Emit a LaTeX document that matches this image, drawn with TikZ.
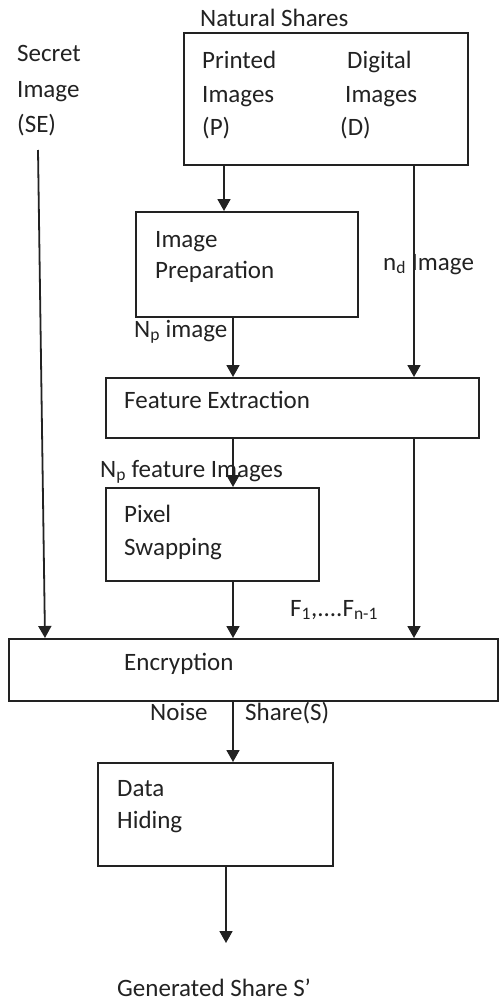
\documentclass[tikz,border=0pt]{standalone}
\usepackage{fontspec}
\setmainfont{Carlito}
\usetikzlibrary{arrows.meta}
\definecolor{ink}{HTML}{222222}
\begin{document}
\begin{tikzpicture}[x=1pt,y=-1pt,
  box/.style={draw=ink, line width=1.8pt, inner sep=0pt, anchor=north west},
  lbl/.style={inner sep=0pt, anchor=base west, text=ink, font=\fontsize{25}{29}\selectfont},
  arr/.style={draw=ink, line width=1.8pt, -{Triangle[length=12pt,width=13pt]}},
  ln/.style={draw=ink, line width=1.8pt}]
\useasboundingbox (0,0) rectangle (498,1001);
% boxes
\node[box, minimum width=284pt, minimum height=132pt] (ns) at (183,32) {};
\node[box, minimum width=222pt, minimum height=105pt] (ip) at (135,211) {};
\node[box, minimum width=373pt, minimum height=60pt] (fe) at (105,377) {};
\node[box, minimum width=213pt, minimum height=93pt] (ps) at (105,487) {};
\node[box, minimum width=489pt, minimum height=62pt] (enc) at (8,638) {};
\node[box, minimum width=235pt, minimum height=103pt] (dh) at (97,762) {};
% texts
\node[lbl] (tns) at (200,26) {Natural Shares};
\node[lbl] (ts1) at (17,61) {Secret};
\node[lbl] (ts2) at (17,97) {Image};
\node[lbl] (ts3) at (17,132) {(SE)};
\node[lbl] (tp1) at (202,68) {Printed};
\node[lbl] (tp2) at (202,102) {Images};
\node[lbl] (tp3) at (202,135) {(P)};
\node[lbl] (td1) at (347,68) {Digital};
\node[lbl] (td2) at (345,102) {Images};
\node[lbl] (td3) at (340,135) {(D)};
\node[lbl] (ti1) at (155,247) {Image};
\node[lbl] (ti2) at (155,278) {Preparation};
\node[lbl] (tnd) at (383,270) {n\textsubscript{d} Image};
\node[lbl] (tnp) at (134,337) {N\textsubscript{p} image};
\node[lbl] (tfe) at (124,408) {Feature Extraction};
\node[lbl] (tnf) at (100,477) {N\textsubscript{p} feature Images};
\node[lbl] (tpx1) at (124,522) {Pixel};
\node[lbl] (tpx2) at (124,555) {Swapping};
\node[lbl] (tf) at (290,616) {F\textsubscript{1},....F\textsubscript{n-1}};
\node[lbl] (ten) at (124,670) {Encryption};
\node[lbl] (tno) at (150,720) {Noise};
\node[lbl] (tsh) at (245,720) {Share(S)};
\node[lbl] (tdh1) at (117,796) {Data};
\node[lbl] (tdh2) at (117,828) {Hiding};
\node[lbl] (tgs) at (117,996) {Generated Share S’};
% x positions
\coordinate (xa) at (224,0);
\coordinate (xb) at (233,0);
\coordinate (xr) at (414,0);
\coordinate (xse) at (45,0);
\coordinate (setop) at (38,150);
\coordinate (xd) at (226,0);
\coordinate (gend) at (226,943);
% connectors
\draw[arr] (ns.south -| xa) -- (ip.north -| xa);
\draw[arr] (ns.south -| xr) -- (fe.north -| xr);
\draw[arr] (ip.south -| xb) -- (fe.north -| xb);
\draw[arr] (fe.south -| xb) -- (ps.north -| xb);
\draw[arr] (ps.south -| xb) -- (enc.north -| xb);
\draw[arr] (fe.south -| xr) -- (enc.north -| xr);
\draw[arr] (setop) -- (enc.north -| xse);
\draw[arr] (enc.south -| xb) -- (dh.north -| xb);
\draw[arr] (dh.south -| xd) -- (gend);
\end{tikzpicture}
\end{document}
